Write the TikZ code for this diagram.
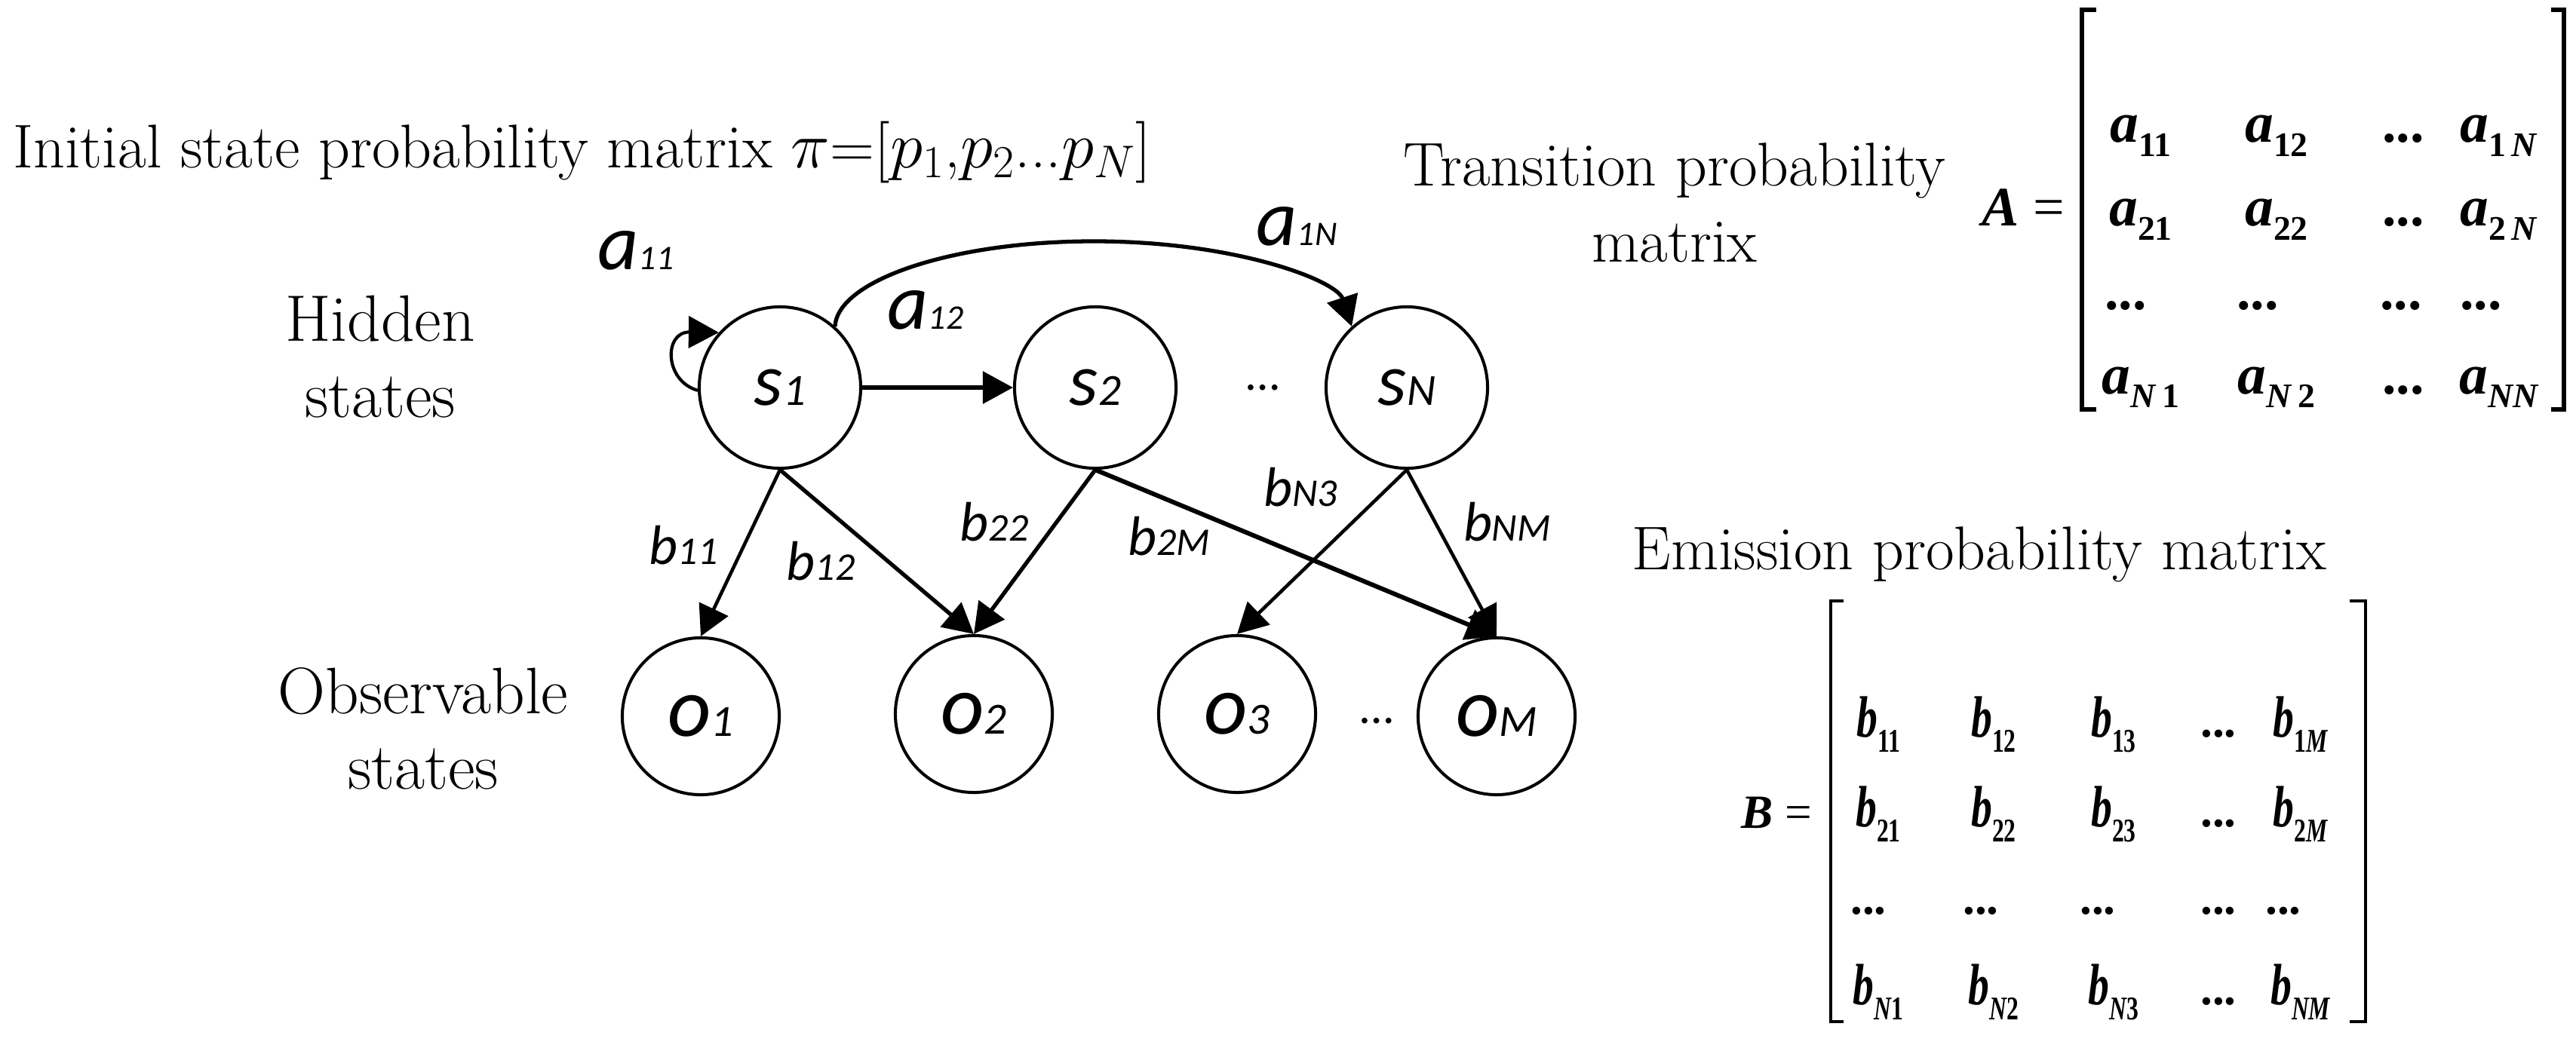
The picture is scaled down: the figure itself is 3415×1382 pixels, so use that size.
\documentclass[tikz,border=0pt]{standalone}
\usepackage{fontspec}
\newfontfamily\lblfont{Carlito}[ItalicFont={Carlito Italic}]
\newfontfamily\mtxfont{Liberation Serif}
\usetikzlibrary{arrows.meta}
\newcommand{\lab}[4]{{\lblfont\itshape\fontsize{#1}{#1}\selectfont #3\fontsize{#2}{#2}\selectfont #4}}
\newcommand{\ma}[1]{{\mtxfont\bfseries\itshape\fontsize{21.5}{21.5}\selectfont a}\raisebox{-0.18cm}{\mtxfont\bfseries\fontsize{13}{13}\selectfont #1}}
\newcommand{\mb}[1]{\scalebox{0.72}[1]{{\mtxfont\bfseries\itshape\fontsize{22}{22}\selectfont b}\raisebox{-0.2cm}{\mtxfont\bfseries\fontsize{12.5}{12.5}\selectfont #1}}}
\tikzset{
  state/.style={circle, draw, line width=1.15pt, minimum size=2.14cm, inner sep=0pt},
  obs/.style={circle, draw, line width=1.15pt, minimum size=2.08cm, inner sep=0pt},
  tipped/.style={-{Triangle[length=0.4cm,width=0.42cm]}},
  earrow/.style={tipped, line width=1.3pt},
  aarrow/.style={tipped, line width=1.5pt},
  lbl/.style={anchor=base, inner sep=0pt},
  serif/.style={inner sep=0pt, font=\fontsize{23.3}{28.5}\selectfont},
  serifb/.style={inner sep=0pt, align=center, font=\fontsize{24.8}{28.5}\selectfont},
  mtx/.style={anchor=base, inner sep=0pt},
  adots/.style={mtx, font=\mtxfont\bfseries\fontsize{21}{21}\selectfont},
  bdots/.style={mtx, font=\mtxfont\bfseries\fontsize{18}{18}\selectfont},
  ndots/.style={inner sep=0pt, font=\lblfont\fontsize{18}{18}\selectfont},
  brk/.style={line join=miter, line cap=butt},
}
\begin{document}
\begin{tikzpicture}[x=0.01cm, y=-0.01cm]
\useasboundingbox (0,0) rectangle (3415,1382);

% texts
\node[serif, anchor=base west] (init) at (17,222) {Initial state probability matrix $\pi$=[$p_{1}$,$p_{2}$...$p_{N}$]};
\node[serifb] (hid) at (504,473) {Hidden\\states};
\node[serifb] (obsl) at (561,966) {Observable\\states};
\node[serif, align=center] (trans) at (2220,269) {Transition probability\\matrix};
\node[serif, anchor=base west] (emis) at (2163,755) {Emission probability matrix};

% states
\node[state] (s1) at (1034,514) {\lab{27.9}{16.8}{s}{1}};
\node[state] (s2) at (1452,514) {\lab{27.9}{16.8}{s}{2}};
\node[state] (sN) at (1865,514) {\lab{27.9}{16.8}{s}{N}};
\node[ndots] (sd) at (1674,514) {…};

\node[obs] (o1) at (929,950) {\lab{31.8}{16.8}{o}{1}};
\node[obs] (o2) at (1291,947) {\lab{31.8}{16.8}{o}{2}};
\node[obs] (o3) at (1640,947) {\lab{31.8}{16.8}{o}{3}};
\node[obs] (oM) at (1984,950) {\lab{31.8}{16.8}{o}{M}};
\node[ndots] (od) at (1825,956) {…};

% transitions
\draw[aarrow, line width=1.2pt] (s1.182) .. controls (880,505) and (880,440) .. (s1.138);
\draw[aarrow, line width=1.7pt] (s1) -- (s2);
\draw[aarrow] (s1.48) .. controls (1110,372) and (1262,320) .. (1450,320)
   .. controls (1638,320) and (1772,372) .. (sN.132);

% emissions
\draw[earrow] (s1.south) -- (o1.north);
\draw[earrow, line width=1.5pt] (s1.south) -- (o2.north);
\draw[earrow, line width=1.5pt] (s2.south) -- (o2.north);
\draw[earrow, line width=1.7pt] (s2.south) -- (oM.north);
\draw[earrow] (sN.south) -- (o3.north);
\draw[earrow] (sN.south) -- (oM.north);

% labels
\node[lbl] (la11) at (843,357) {\lab{30}{13}{a}{11}};
\node[lbl] (la12) at (1227,436) {\lab{30}{13}{a}{12}};
\node[lbl] (la1N) at (1719,325) {\lab{30}{13}{a}{1N}};
\node[lbl] (lb11) at (906,748) {\lab{21}{14.8}{b}{11}};
\node[lbl] (lb12) at (1088,769) {\lab{21}{14.8}{b}{12}};
\node[lbl] (lb22) at (1318,717) {\lab{21}{14.8}{b}{22}};
\node[lbl] (lb2M) at (1550,736) {\lab{21}{14.8}{b}{2M}};
\node[lbl] (lbN3) at (1724,671) {\lab{21}{14.8}{b}{N3}};
\node[lbl] (lbNM) at (1998,717) {\lab{21}{14.8}{b}{NM}};

% matrix A
\node[mtx] (Aeq) at (2682,300) {\mtxfont\fontsize{21}{21}\selectfont\textbf{\textit{A}} =};
\draw[brk, line width=1.6pt] (2779,13) -- (2760,13) -- (2760,543) -- (2779,543);
\draw[brk, line width=1.6pt] (3382,13) -- (3399,13) -- (3399,543) -- (3382,543);
\node[mtx] (A11) at (2838,189) {\ma{11}};
\node[mtx] (A12) at (3018,189) {\ma{12}};
\node[adots] (A13) at (3186,189) {...};
\node[mtx] (A14) at (3313,189) {\ma{1\,\textit{N}}};
\node[mtx] (A21) at (2838,300) {\ma{21}};
\node[mtx] (A22) at (3018,300) {\ma{22}};
\node[adots] (A23) at (3186,300) {...};
\node[mtx] (A24) at (3313,300) {\ma{2\,\textit{N}}};
\node[adots] (A31) at (2818,410) {...};
\node[adots] (A32) at (2993,410) {...};
\node[adots] (A33) at (3183,410) {...};
\node[adots] (A34) at (3289,410) {...};
\node[mtx] (A41) at (2838,522) {\ma{\textit{N}\,1}};
\node[mtx] (A42) at (3018,522) {\ma{\textit{N}\,2}};
\node[adots] (A43) at (3186,522) {...};
\node[mtx] (A44) at (3313,522) {\ma{\textit{NN}}};

% matrix B
\node[mtx] (Beq) at (2355,1098) {\mtxfont\fontsize{18}{18}\selectfont\textbf{\textit{B}} =};
\draw[brk, line width=1.2pt] (2444,797) -- (2427,797) -- (2427,1355) -- (2444,1355);
\draw[brk, line width=1.2pt] (3115,797) -- (3136,797) -- (3136,1355) -- (3115,1355);
\node[mtx] (B11) at (2490,977) {\mb{11}};
\node[mtx] (B12) at (2643,977) {\mb{12}};
\node[mtx] (B13) at (2802,977) {\mb{13}};
\node[bdots] (B14) at (2941,977) {...};
\node[mtx] (B15) at (3050,977) {\mb{1\textit{M}}};
\node[mtx] (B21) at (2490,1096) {\mb{21}};
\node[mtx] (B22) at (2643,1096) {\mb{22}};
\node[mtx] (B23) at (2802,1096) {\mb{23}};
\node[bdots] (B24) at (2941,1096) {...};
\node[mtx] (B25) at (3050,1096) {\mb{2\textit{M}}};
\node[bdots] (B31) at (2477,1212) {...};
\node[bdots] (B32) at (2626,1212) {...};
\node[bdots] (B33) at (2781,1212) {...};
\node[bdots] (B34) at (2941,1212) {...};
\node[bdots] (B35) at (3027,1212) {...};
\node[mtx] (B41) at (2490,1332) {\mb{\textit{N}1}};
\node[mtx] (B42) at (2643,1332) {\mb{\textit{N}2}};
\node[mtx] (B43) at (2802,1332) {\mb{\textit{N}3}};
\node[bdots] (B44) at (2941,1332) {...};
\node[mtx] (B45) at (3050,1332) {\mb{\textit{NM}}};
\end{tikzpicture}
\end{document}
